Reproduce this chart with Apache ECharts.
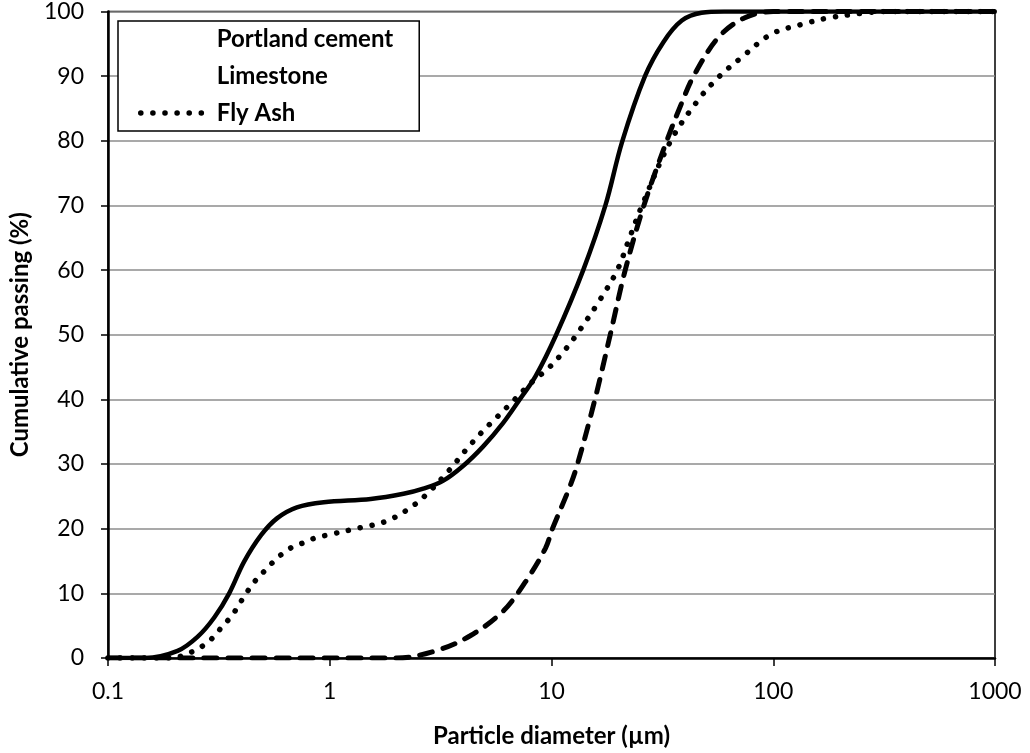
<!DOCTYPE html>
<html>
<head>
<meta charset="utf-8">
<script src="https://cdn.jsdelivr.net/npm/echarts@6/dist/echarts.min.js"></script>
<style>
  html, body { margin: 0; padding: 0; background: #fff; }
  #main { width: 1030px; height: 753px; }
</style>
</head>
<body>
<div id="main"></div>
<script>
// particle size (µm) and cumulative passing (%)
const cementSize = [0.1, 0.147, 0.206, 0.254, 0.302, 0.352, 0.411, 0.49, 0.578, 0.711, 0.94, 1.53, 2.15, 2.64, 3.24, 3.99, 4.91, 6.03, 7.19, 8.48, 10.5, 13.9, 17.5, 20.8, 26.4, 32, 38.7, 47.5, 60, 1000]
const cementPass = [0, 0, 1.1, 3.3, 6.3, 10, 14.9, 19, 21.6, 23.3, 24.1, 24.6, 25.4, 26.2, 27.4, 29.7, 32.7, 36.3, 40, 43.6, 50, 60, 70, 79.8, 90, 95.3, 98.6, 99.8, 100, 100]

const limeSize = [0.1, 1.0, 2.0, 3.0, 4.28, 6.03, 7.64, 9.4, 10.1, 12.0, 13.1, 15.7, 18.4, 21.5, 26.1, 33.1, 38.7, 43.7, 56.6, 74, 100, 1000]
const limePass = [0, 0, 0, 1.1, 3.4, 7.2, 11.8, 17, 20, 26.2, 30, 40, 50, 60, 70, 80, 85.9, 90, 96, 99, 100, 100]

const ashSize = [0.1, 0.19, 0.245, 0.278, 0.302, 0.328, 0.357, 0.383, 0.407, 0.438, 0.471, 0.516, 0.561, 0.615, 0.682, 0.772, 0.865, 0.97, 1.39, 1.78, 2.21, 2.69, 3.49, 4.07, 4.81, 5.73, 6.83, 8.05, 9.8, 11.6, 13.4, 16.4, 19.8, 22.5, 25.6, 34.5, 46.1, 57.3, 72, 98, 134, 177, 248, 320, 1000]
const ashPass = [0, 0, 1.1, 2.3, 3.4, 4.9, 6.3, 7.8, 9.3, 10.9, 12.3, 13.7, 15, 16.2, 17.2, 17.9, 18.6, 19, 20.2, 21.1, 22.8, 25.1, 29.2, 32, 34.8, 37.4, 40, 42.5, 45, 47.8, 50.7, 55.2, 60, 65, 70, 80, 86.4, 90, 92.9, 96.5, 98, 99, 99.7, 100, 100]

const seriesNames = ['Portland cement', 'Limestone', 'Fly Ash']
const xTicks = [0.1, 1, 10, 100, 1000]

const FONT = 'Lato'
const pairs = (xs, ys) => xs.map((x, i) => [x, ys[i]])
const dotted = { color: '#000', width: 5.5, type: [0.1, 12], cap: 'round' }

const chart = echarts.init(document.getElementById('main'))
chart.setOption({
  animation: false,
  backgroundColor: '#fff',
  textStyle: { fontFamily: FONT, color: '#000' },
  grid: {
    left: 103, right: 35, top: 11, bottom: 89,
    show: true, borderColor: '#000', borderWidth: 1.5
  },
  legend: {
    orient: 'vertical',
    left: 118, top: 21,
    padding: [6, 26, 6, 20],
    itemGap: 13,
    itemWidth: 62,
    itemHeight: 14,
    borderColor: '#000',
    borderWidth: 1.5,
    backgroundColor: '#fff',
    textStyle: { fontFamily: FONT, fontWeight: 'bold', fontSize: 24, color: '#000', lineHeight: 24, padding: [0, 0, 0, 9] },
    data: [
      { name: seriesNames[0], itemStyle: { opacity: 0 }, lineStyle: { opacity: 0 } },
      { name: seriesNames[1], itemStyle: { opacity: 0 }, lineStyle: { opacity: 0 } },
      { name: seriesNames[2], itemStyle: { opacity: 0 }, lineStyle: dotted }
    ]
  },
  xAxis: {
    type: 'log',
    logBase: 10,
    min: 0.1,
    max: 1000,
    name: 'Particle diameter (µm)',
    nameLocation: 'middle',
    nameGap: 66,
    nameTextStyle: { fontFamily: FONT, fontWeight: 'bold', fontSize: 24, color: '#000' },
    axisLine: { lineStyle: { color: '#000', width: 2.5 } },
    axisTick: { show: true, inside: false, length: 8, lineStyle: { color: '#000', width: 1.5 } },
    minorTick: { show: false },
    splitLine: { show: false },
    axisLabel: {
      margin: 22, fontSize: 23, color: '#000', fontFamily: FONT,
      formatter: v => xTicks.find(t => Math.abs(t - v) / t < 1e-6) !== undefined ? String(+v.toPrecision(3)) : ''
    }
  },
  yAxis: {
    type: 'value',
    min: 0,
    max: 100,
    interval: 10,
    name: 'Cumulative passing (%)',
    nameLocation: 'middle',
    nameGap: 76,
    nameTextStyle: { fontFamily: FONT, fontWeight: 'bold', fontSize: 24, color: '#000' },
    axisLine: { show: true, lineStyle: { color: '#000', width: 2.5 } },
    axisTick: { show: true, inside: false, length: 7, lineStyle: { color: '#000', width: 1.5 } },
    splitLine: { show: true, lineStyle: { color: '#8c8c8c', width: 1.5 } },
    axisLabel: { margin: 24, fontSize: 23, color: '#000', fontFamily: FONT }
  },
  series: [
    {
      name: seriesNames[0],
      type: 'line',
      data: pairs(cementSize, cementPass),
      smooth: 0.35,
      symbol: 'none',
      itemStyle: { color: '#000' },
      lineStyle: { color: '#000', width: 4.5 },
      z: 3
    },
    {
      name: seriesNames[1],
      type: 'line',
      data: pairs(limeSize, limePass),
      smooth: 0.35,
      symbol: 'none',
      itemStyle: { color: '#000' },
      lineStyle: { color: '#000', width: 5, type: [13, 11], cap: 'round' },
      z: 2
    },
    {
      name: seriesNames[2],
      type: 'line',
      data: pairs(ashSize, ashPass),
      smooth: 0.35,
      symbol: 'none',
      itemStyle: { color: '#000' },
      lineStyle: dotted,
      z: 2
    }
  ]
})
</script>
</body>
</html>
